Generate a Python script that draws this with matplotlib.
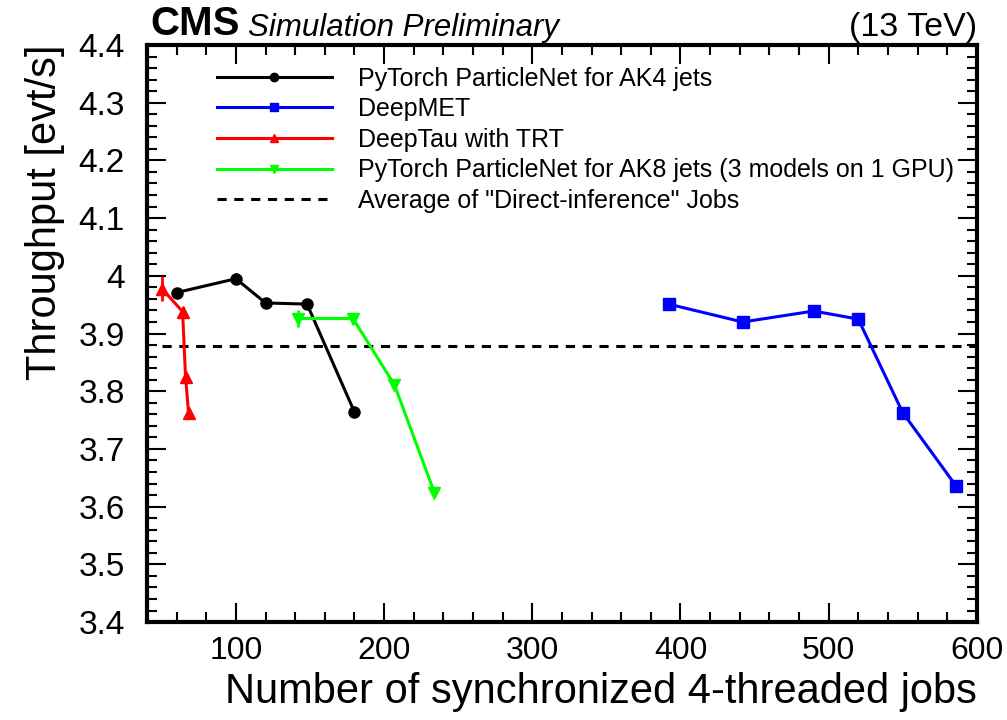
import numpy as np
import matplotlib
matplotlib.use("Agg")
from matplotlib import pyplot as plt
from matplotlib.lines import Line2D
from matplotlib.ticker import MultipleLocator

plt.rcParams['font.family'] = ['Liberation Sans', 'DejaVu Sans']

# values
ak4_x = [60, 100, 120, 148, 180]
ak4_y = [3.971, 3.995, 3.953, 3.951, 3.764]
ak4_err = [0.008, 0.010, 0.009, 0.007, 0.004]

met_x = [392, 442, 490, 520, 550, 586]
met_y = [3.951, 3.920, 3.939, 3.925, 3.763, 3.636]
met_err = [0.008, 0.004, 0.004, 0.006, 0.004, 0.004]

tau_x = [50, 64, 66, 68]
tau_y = [3.978, 3.938, 3.825, 3.763]
tau_err = [0.022, 0.008, 0.006, 0.004]

ak8_x = [142, 179, 207, 234]
ak8_y = [3.926, 3.926, 3.811, 3.624]
ak8_err = [0.014, 0.004, 0.004, 0.004]

direct_avg = 3.878

series = [
    (ak4_x, ak4_y, ak4_err, "black", "o", "PyTorch ParticleNet for AK4 jets"),
    (met_x, met_y, met_err, "#0000ff", "s", "DeepMET"),
    (tau_x, tau_y, tau_err, "#ff0000", "^", "DeepTau with TRT"),
    (ak8_x, ak8_y, ak8_err, "#00ff00", "v", "PyTorch ParticleNet for AK8 jets (3 models on 1 GPU)"),
]

fig = plt.figure(figsize=(10.07, 7.2), dpi=100)
ax = fig.add_axes([0.146, 0.136, 0.824, 0.8015])

handles = []
for x, y, e, c, m, lab in series:
    ax.errorbar(x, y, yerr=e, color=c, marker=m, ms=8, lw=2.2,
                elinewidth=2, capsize=0)
    handles.append(Line2D([], [], color=c, marker=m, ms=6, lw=2.2, label=lab))
ax.hlines(direct_avg, 50, 600, colors="black", linestyles=(0, (3, 2.5)), lw=2.2)
handles.append(Line2D([], [], color="black", ls=(0, (3, 2.5)), lw=2.2,
                      label='Average of "Direct-inference" Jobs'))

ax.legend(handles=handles, loc="upper left", bbox_to_anchor=(0.063, 0.993),
          frameon=False, fontsize=18, handlelength=4.6, handletextpad=1.05,
          labelspacing=0.265, borderpad=0.2)

ax.set_xlim(40, 600)
ax.set_ylim(3.4, 4.4)
ax.xaxis.set_major_locator(MultipleLocator(100))
ax.xaxis.set_minor_locator(MultipleLocator(20))
ax.yaxis.set_minor_locator(MultipleLocator(0.02))
ax.set_yticks(np.arange(3.4, 4.41, 0.1))
ax.set_yticklabels(["3.4", "3.5", "3.6", "3.7", "3.8", "3.9", "4", "4.1", "4.2", "4.3", "4.4"])

ax.tick_params(which="both", direction="in", top=True, right=True, width=1.5)
ax.tick_params(which="major", length=14)
ax.tick_params(which="minor", length=7)
ax.tick_params(axis="y", labelsize=24, pad=16)
ax.tick_params(axis="x", labelsize=23, pad=10)
for sp in ax.spines.values():
    sp.set_linewidth(3)

ax.set_xlabel("Number of synchronized 4-threaded jobs", fontsize=30,
              loc="right", labelpad=4)
ax.set_ylabel("Throughput [evt/s]", fontsize=30, loc="top", labelpad=10)

fig.text(0.149, 0.94, "CMS", fontsize=29, fontweight="bold", va="bottom")
fig.text(0.246, 0.94, "Simulation Preliminary", fontsize=22.5, style="italic", va="bottom")
fig.text(0.970, 0.94, "(13 TeV)", fontsize=24.5, ha="right", va="bottom")

fig.savefig("out.png", dpi=100)
